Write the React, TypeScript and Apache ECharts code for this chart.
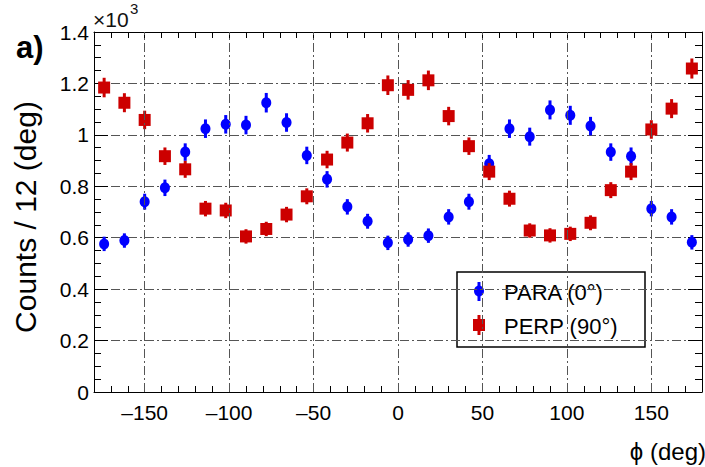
import React, { useEffect, useRef } from 'react';
import * as echarts from 'echarts';

const phiCenters = [-174, -162, -150, -138, -126, -114, -102, -90, -78, -66, -54, -42, -30, -18, -6, 6, 18, 30, 42, 54, 66, 78, 90, 102, 114, 126, 138, 150, 162, 174];
const paraCounts = [576, 589, 740, 794, 933, 1024, 1041, 1038, 1125, 1048, 920, 827, 720, 664, 580, 593, 608, 681, 740, 888, 1024, 993, 1097, 1076, 1034, 933, 917, 713, 681, 582];
const paraErrors = [28, 28, 31, 32, 34, 36, 36, 36, 38, 36, 34, 32, 30, 29, 28, 28, 28, 30, 31, 34, 36, 35, 37, 37, 36, 34, 34, 30, 30, 28];
const perpCounts = [1184, 1125, 1058, 917, 866, 713, 706, 605, 634, 690, 761, 904, 970, 1045, 1193, 1175, 1212, 1073, 956, 857, 752, 628, 609, 615, 658, 785, 857, 1021, 1102, 1258];
const perpErrors = [38, 37, 36, 34, 33, 30, 30, 28, 28, 30, 31, 34, 35, 36, 38, 38, 38, 36, 34, 33, 31, 28, 28, 28, 29, 31, 33, 36, 37, 39];
const xGridValues = [-150, -100, -50, 0, 50, 100, 150];
const seriesNames = ['PARA (0°)', 'PERP (90°)'];

const BLUE = '#0000ff';
const RED = '#cc0000';
const FONT = '"Liberation Sans", Arial, Helvetica, sans-serif';
const GRIDDASH = [9, 3, 2, 3];

export default function App() {
  const ref = useRef<HTMLDivElement>(null);
  useEffect(() => {
    if (!ref.current) return;
    const chart = echarts.init(ref.current, null, { renderer: 'svg' });
    const paraData = phiCenters.map((x, i) => [x, paraCounts[i], paraErrors[i]]);
    const perpData = phiCenters.map((x, i) => [x, perpCounts[i], perpErrors[i]]);

    const makeRender = (kind: 'circle' | 'square') => (params: any, api: any) => {
      const x = api.value(0), y = api.value(1), e = api.value(2);
      const c = api.coord([x, y]);
      const t = api.coord([x, y + e]);
      const b = api.coord([x, y - e]);
      const color = kind === 'circle' ? BLUE : RED;
      const marker = kind === 'circle'
        ? { type: 'ellipse', shape: { cx: c[0], cy: c[1], rx: 5, ry: 5.5 }, style: { fill: color } }
        : { type: 'rect', shape: { x: c[0] - 6, y: c[1] - 6, width: 12, height: 12 }, style: { fill: color } };
      return {
        type: 'group',
        children: [
          { type: 'line', shape: { x1: c[0], y1: t[1], x2: c[0], y2: b[1] }, style: { stroke: color, lineWidth: 3 } },
          marker,
        ],
      };
    };

    const xFmt = (v: number) => {
      if (v % 50 !== 0 || Math.abs(v) >= 180) return '';
      return v < 0 ? '\u2013' + Math.abs(v) : String(v);
    };

    const axisLineStyle = { show: true, onZero: false, lineStyle: { color: '#000', width: 1 } };

    const option: any = {
      animation: false,
      grid: { left: 94, right: 0, top: 32, bottom: 75, containLabel: false },
      xAxis: [
        {
          type: 'value', min: -180, max: 180, interval: 10, position: 'bottom',
          axisLine: axisLineStyle,
          axisTick: { show: true, inside: true, length: 6, lineStyle: { color: '#000' } },
          axisLabel: { formatter: xFmt, color: '#000', fontSize: 21, fontFamily: FONT, margin: 10 },
          splitLine: { show: false },
        },
        {
          type: 'value', min: -180, max: 180, interval: 10, position: 'top',
          axisLine: axisLineStyle,
          axisTick: { show: true, inside: true, length: 6, lineStyle: { color: '#000' } },
          axisLabel: { show: false },
          splitLine: { show: false },
        },
      ],
      yAxis: [
        {
          type: 'value', min: 0, max: 1400, interval: 200, position: 'left',
          axisLine: axisLineStyle,
          axisTick: { show: true, inside: true, length: 14, lineStyle: { color: '#000' } },
          minorTick: { show: true, splitNumber: 4, length: 7, lineStyle: { color: '#000' } },
          axisLabel: { formatter: (v: number) => String(v / 1000), color: '#000', fontSize: 21, fontFamily: FONT, margin: 5 },
          splitLine: { show: true, lineStyle: { color: '#555', width: 1, type: GRIDDASH } },
        },
        {
          type: 'value', min: 0, max: 1400, interval: 200, position: 'right',
          axisLine: axisLineStyle,
          axisTick: { show: true, inside: true, length: 14, lineStyle: { color: '#000' } },
          minorTick: { show: true, splitNumber: 4, length: 7, lineStyle: { color: '#000' } },
          axisLabel: { show: false },
          splitLine: { show: false },
        },
      ],
      series: [
        {
          type: 'scatter', data: [], symbolSize: 0, z: 1, silent: true,
          markLine: {
            silent: true, symbol: 'none', label: { show: false },
            lineStyle: { color: '#555', width: 1, type: GRIDDASH },
            data: xGridValues.map((v) => ({ xAxis: v })),
          },
        },
        {
          name: seriesNames[0], type: 'custom', z: 3, renderItem: makeRender('circle'),
          encode: { x: 0, y: 1 }, data: paraData,
        },
        {
          name: seriesNames[1], type: 'custom', z: 4, renderItem: makeRender('square'),
          encode: { x: 0, y: 1 }, data: perpData,
        },
      ],
      graphic: [
        {
          type: 'text', x: 16, y: 47, z: 100,
          style: { text: 'a)', fontSize: 31, fontWeight: 'bold', fontFamily: FONT, fill: '#000', verticalAlign: 'middle' },
        },
        {
          type: 'text', x: 25, y: 217, rotation: Math.PI / 2, z: 100,
          style: { text: 'Counts / 12 (deg)', fontSize: 30, fontFamily: FONT, fill: '#000', align: 'center', verticalAlign: 'middle' },
        },
        {
          type: 'text', x: 93, y: 30, z: 100,
          style: { text: '×10', fontSize: 21, fontFamily: FONT, fill: '#111', verticalAlign: 'bottom' },
        },
        {
          type: 'text', x: 130, y: 1, z: 100,
          style: { text: '3', fontSize: 15, fontFamily: FONT, fill: '#111', verticalAlign: 'top' },
        },
        {
          type: 'text', x: 706, y: 451, z: 100,
          style: { text: 'ϕ (deg)', fontSize: 24, fontFamily: FONT, fill: '#000', align: 'right', verticalAlign: 'middle' },
        },
        {
          type: 'group', z: 100,
          children: [
            { type: 'rect', shape: { x: 457, y: 272, width: 188, height: 75 }, style: { fill: '#fff', stroke: '#000', lineWidth: 1.5 } },
            { type: 'line', shape: { x1: 479, y1: 282, x2: 479, y2: 301 }, style: { stroke: BLUE, lineWidth: 3 } },
            { type: 'ellipse', shape: { cx: 479, cy: 291, rx: 5, ry: 5.5 }, style: { fill: BLUE } },
            { type: 'text', x: 504, y: 292, style: { text: seriesNames[0], fontSize: 22, fontFamily: FONT, fill: '#000', verticalAlign: 'middle' } },
            { type: 'line', shape: { x1: 479, y1: 315, x2: 479, y2: 335 }, style: { stroke: RED, lineWidth: 3 } },
            { type: 'rect', shape: { x: 473, y: 319, width: 12, height: 12 }, style: { fill: RED } },
            { type: 'text', x: 504, y: 326, style: { text: seriesNames[1], fontSize: 22, fontFamily: FONT, fill: '#000', verticalAlign: 'middle' } },
          ],
        },
      ],
    };
    chart.setOption(option);
    return () => chart.dispose();
  }, []);
  return <div ref={ref} style={{ position: 'fixed', left: 0, top: 0, width: 705, height: 467, background: '#fff' }} />;
}
